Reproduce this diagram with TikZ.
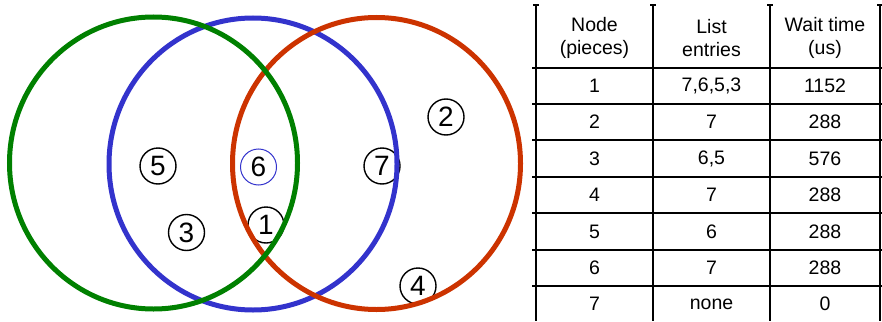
\documentclass[tikz,border=0pt]{standalone}
\usepackage{fontspec}
\setmainfont{Liberation Sans}
\definecolor{vgreen}{RGB}{0,128,0}
\definecolor{vblue}{RGB}{51,51,204}
\definecolor{vred}{RGB}{204,51,0}
\begin{document}
\begin{tikzpicture}[x=1pt,y=-1pt,
  setc/.style={line width=5pt},
  num/.style={circle,draw=black,line width=1.4pt,minimum size=36pt,inner sep=0pt,font=\fontsize{28}{28}\selectfont},
  cell/.style={font=\fontsize{19.5}{23}\selectfont,align=center,inner sep=0pt},
  grid/.style={line width=2pt,black}]
\useasboundingbox (0,0) rectangle (882,321);
% numbered pieces
\node[num] (n5) at (158,166) {5};
\node[num,draw=vblue,line width=1pt] (n6) at (258.5,167) {6};
\node[num] (n7) at (382,166) {7};
\node[num] (n2) at (446,117) {2};
\node[num] (n3) at (186.5,232.5) {3};
\node[num] (n1) at (266,225) {1};
\node[num] (n4) at (418,286) {4};
% set circles
\draw[setc,vblue] (253,164) ellipse [x radius=144pt, y radius=146pt];
\draw[setc,vred] (376.5,163.5) ellipse [x radius=144pt, y radius=146pt];
\draw[setc,vgreen] (153.5,163) ellipse [x radius=144pt, y radius=146pt];
% table grid
\foreach \x in {536,653,770,880}{
  \draw[grid] (\x,5) -- (\x,321);
  \draw[grid] (\x-3,5) -- (\x+3,5);
}
\foreach \y in {68,104,140,177,213,250,286}{
  \draw[grid] (532,\y) -- (884,\y);
}
% header
\node[cell] (hA) at (594.5,38) {Node\\(pieces)};
\node[cell] (hB) at (711.5,38) {List\\entries};
\node[cell] (hC) at (825,38) {Wait time\\(us)};
% rows
\foreach \i/\yy/\b/\c in {1/86/{7,6,5,3}/1152, 2/122/7/288, 3/158.5/{6,5}/576, 4/195/7/288, 5/231.5/6/288, 6/268/7/288, 7/304/none/0}{
  \node[cell] (r\i a) at (594.5,\yy) {\i};
  \node[cell] (r\i b) at (711.5,\yy) {\b};
  \node[cell] (r\i c) at (825,\yy) {\c};
}
\end{tikzpicture}
\end{document}
